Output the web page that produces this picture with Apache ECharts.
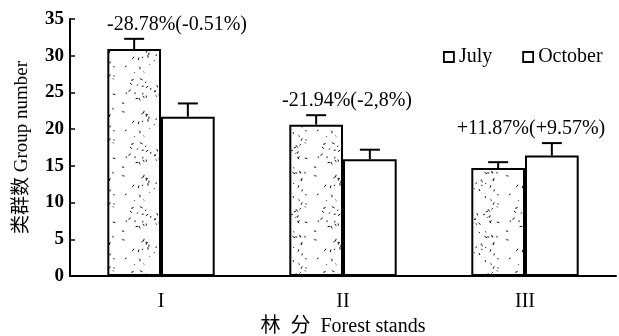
<!DOCTYPE html>
<html>
<head>
<meta charset="utf-8">
<script src="https://cdn.jsdelivr.net/npm/echarts@6/dist/echarts.min.js"></script>
<style>html,body{margin:0;padding:0;background:#fff}#c{width:619px;height:336px}</style>
</head>
<body>
<div id="c"></div>
<script>
const categories = ['I', 'II', 'III'];
const seriesNames = ['July', 'October'];
const julyValues = [30.9, 20.6, 14.7];
const julyErrTop = [32.3, 21.9, 15.5];
const octValues = [21.7, 15.9, 16.4];
const octErrTop = [23.5, 17.2, 18.1];
const annotations = ['-28.78%(-0.51%)', '-21.94%(-2,8%)', '+11.87%(+9.57%)'];
const yTicks = [0, 5, 10, 15, 20, 25, 30, 35];

const FONT = '"Liberation Serif", "Noto Sans CJK SC", serif';
const annShift = [16, 4, 6];

// deterministic stipple texture
function makeStipple() {
  const cv = document.createElement('canvas');
  cv.width = 64; cv.height = 64;
  const ctx = cv.getContext('2d');
  ctx.fillStyle = '#fff';
  ctx.fillRect(0, 0, 64, 64);
  ctx.strokeStyle = '#111';
  ctx.lineWidth = 1;
  let s = 12345;
  const nx = () => { s = (s * 1103515245 + 12345) % 2147483648; return s / 2147483648; };
  for (let i = 0; i < 70; i++) {
    const x = nx() * 64, y = nx() * 64, a = nx() * Math.PI * 2, l = 1 + nx() * 2;
    ctx.beginPath();
    ctx.moveTo(x, y);
    ctx.lineTo(x + Math.cos(a) * l, y + Math.sin(a) * l);
    ctx.stroke();
  }
  return cv;
}
const stipple = makeStipple();

const errData = [];
for (let i = 0; i < categories.length; i++) {
  errData.push([i, julyValues[i], julyErrTop[i], 0]);
  errData.push([i, octValues[i], octErrTop[i], 1]);
}
const annData = categories.map((c, i) => [i, Math.max(julyErrTop[i], octErrTop[i])]);

const chart = echarts.init(document.getElementById('c'), null, {renderer: 'canvas'});
chart.setOption({
  animation: false,
  backgroundColor: '#fff',
  grid: {left: 70, right: 3, top: 19, bottom: 60, containLabel: false, outerBoundsMode: 'none'},
  legend: {
    left: 438, top: 42,
    itemWidth: 10, itemHeight: 10, itemGap: 30, itemTextGap: 5,
    icon: 'rect',
    textStyle: {fontFamily: FONT, fontSize: 20, color: '#000'},
    data: seriesNames.map(n => ({name: n, itemStyle: {color: '#fff', borderColor: '#000', borderWidth: 1.8}}))
  },
  xAxis: {
    type: 'category',
    data: categories,
    name: '林  分  Forest stands',
    nameLocation: 'middle',
    nameGap: 41,
    nameTextStyle: {fontFamily: FONT, fontSize: 20, color: '#000'},
    axisLine: {lineStyle: {color: '#000', width: 2}},
    axisTick: {inside: true, length: 5, lineStyle: {color: '#000', width: 1.5}},
    axisLabel: {fontFamily: FONT, fontSize: 20, color: '#000', margin: 16}
  },
  yAxis: {
    type: 'value',
    min: 0, max: 35, interval: 5,
    name: '类群数 Group number',
    nameLocation: 'middle',
    nameRotate: 90,
    nameGap: 38,
    nameTextStyle: {fontFamily: FONT, fontSize: 19, color: '#000'},
    axisLine: {show: true, lineStyle: {color: '#000', width: 2}},
    axisTick: {show: true, inside: true, length: 5, lineStyle: {color: '#000', width: 1.5}},
    splitLine: {show: false},
    axisLabel: {fontFamily: FONT, fontSize: 19, fontWeight: 'bold', color: '#000', margin: 6,
      formatter: v => yTicks.includes(v) ? String(v) : ''}
  },
  series: [
    {
      name: seriesNames[0], type: 'bar', data: julyValues,
      barGap: '0%', barCategoryGap: '41%',
      itemStyle: {color: {image: stipple, repeat: 'repeat'}, borderColor: '#000', borderWidth: 2}
    },
    {
      name: seriesNames[1], type: 'bar', data: octValues,
      barGap: '0%', barCategoryGap: '41%',
      itemStyle: {color: '#fff', borderColor: '#000', borderWidth: 2}
    },
    {
      type: 'custom', data: errData, z: 5,
      renderItem: (params, api) => {
        const cat = api.value(0);
        const base = api.coord([cat, api.value(1)]);
        const top = api.coord([cat, api.value(2)]);
        const cw = api.size([1, 0])[0];
        const bw = cw * (1 - 0.41) / 2;
        const x = base[0] + (api.value(3) === 0 ? -bw / 2 : bw / 2);
        return {
          type: 'group',
          children: [
            {type: 'line', shape: {x1: x, y1: base[1], x2: x, y2: top[1]}, style: {stroke: '#000', lineWidth: 2}},
            {type: 'line', shape: {x1: x - 10, y1: top[1], x2: x + 10, y2: top[1]}, style: {stroke: '#000', lineWidth: 2}}
          ]
        };
      }
    },
    {
      type: 'custom', data: annData, z: 6,
      renderItem: (params, api) => {
        const i = api.value(0);
        const p = api.coord([i, api.value(1)]);
        return {
          type: 'text',
          style: {x: p[0] + annShift[i], y: p[1] - 14, text: annotations[i], align: 'center', verticalAlign: 'middle',
            font: '20px ' + FONT, fill: '#000'}
        };
      }
    }
  ]
});
</script>
</body>
</html>
